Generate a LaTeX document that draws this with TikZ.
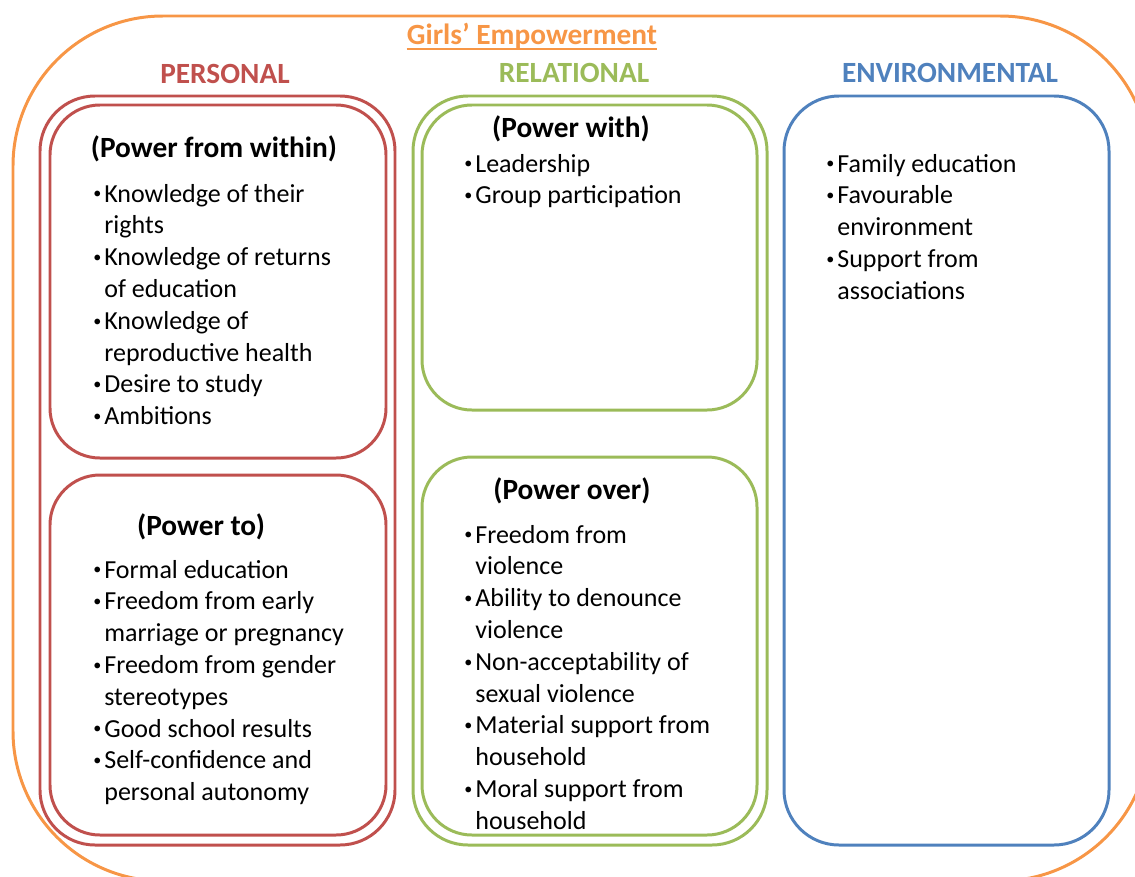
\documentclass[tikz,border=0pt]{standalone}
\usepackage{fontspec}
\usepackage{graphicx}
\setmainfont{Carlito}
\definecolor{empOrange}{HTML}{F79646}
\definecolor{empRed}{HTML}{C0504D}
\definecolor{empGreen}{HTML}{9BBB59}
\definecolor{empBlue}{HTML}{4F81BD}
% small bullet with a fixed hanging indent
\newcommand{\bul}{\makebox[0.22cm][l]{\raisebox{0.12em}{\scalebox{0.62}{\textbullet}}}}
\begin{document}
\begin{tikzpicture}[x=0.02cm, y=-0.02cm,
    panel/.style={line width=1.7pt, rounded corners=#1},
    head/.style={font=\fontsize{16.7}{20}\selectfont\bfseries, anchor=base, inner sep=0pt},
    list/.style={font=\fontsize{14.8}{18.1}\selectfont, anchor=base west, inner sep=0pt}]
    \useasboundingbox (0,0) rectangle (1135,876);
    \clip (0,0) rectangle (1135,876);
    % outer frame
    \draw[panel=3cm, empOrange] (13,16) rectangle (1150,881);
    % columns and their inner boxes
    \draw[panel=1.1cm, empRed] (40,96) rectangle (395,845);
    \draw[panel=1cm, empRed] (50,105) rectangle (386,458);
    \draw[panel=1cm, empRed] (50,475) rectangle (386,835);
    \draw[panel=1.1cm, empGreen] (413,96) rectangle (767,845);
    \draw[panel=1cm, empGreen] (422,105) rectangle (757,410);
    \draw[panel=1cm, empGreen] (422,457) rectangle (757,835);
    \draw[panel=1.1cm, empBlue] (784,96) rectangle (1109,845);
    % headings
    \node[head, text=empOrange] (title) at (532,44) {Girls’ Empowerment};
    \draw[empOrange, line width=1.2pt] (title.south west) -- (title.south east);
    \node[head, text=empRed] (personal) at (225,83) {PERSONAL};
    \node[head, text=empGreen] (relational) at (574,82) {RELATIONAL};
    \node[head, text=empBlue] (environmental) at (950,82) {ENVIRONMENTAL};
    \node[head] (within) at (214,157) {(Power from within)};
    \node[head] (powerto) at (201,535) {(Power to)};
    \node[head] (powerwith) at (571,137) {(Power with)};
    \node[head] (powerover) at (572,499) {(Power over)};
    % bullet lists
    \node[list] (withinlist) at (93,202) {\begin{tabular}[t]{@{}l@{}l@{}}
        \bul & Knowledge of their\\ & rights\\
        \bul & Knowledge of returns\\ & of education\\
        \bul & Knowledge of\\ & reproductive health\\
        \bul & Desire to study\\
        \bul & Ambitions
    \end{tabular}};
    \node[list] (tolist) at (93,578) {\begin{tabular}[t]{@{}l@{}l@{}}
        \bul & Formal education\\
        \bul & Freedom from early\\ & marriage or pregnancy\\
        \bul & Freedom from gender\\ & stereotypes\\
        \bul & Good school results\\
        \bul & Self-confidence and\\ & personal autonomy
    \end{tabular}};
    \node[list] (withlist) at (464,172) {\begin{tabular}[t]{@{}l@{}l@{}}
        \bul & Leadership\\
        \bul & Group participation
    \end{tabular}};
    \node[list] (overlist) at (464,543) {\begin{tabular}[t]{@{}l@{}l@{}}
        \bul & Freedom from\\ & violence\\
        \bul & Ability to denounce\\ & violence\\
        \bul & Non-acceptability of\\ & sexual violence\\
        \bul & Material support from\\ & household\\
        \bul & Moral support from\\ & household
    \end{tabular}};
    \node[list] (envlist) at (826,172) {\begin{tabular}[t]{@{}l@{}l@{}}
        \bul & Family education\\
        \bul & Favourable\\ & environment\\
        \bul & Support from\\ & associations
    \end{tabular}};
\end{tikzpicture}
\end{document}
